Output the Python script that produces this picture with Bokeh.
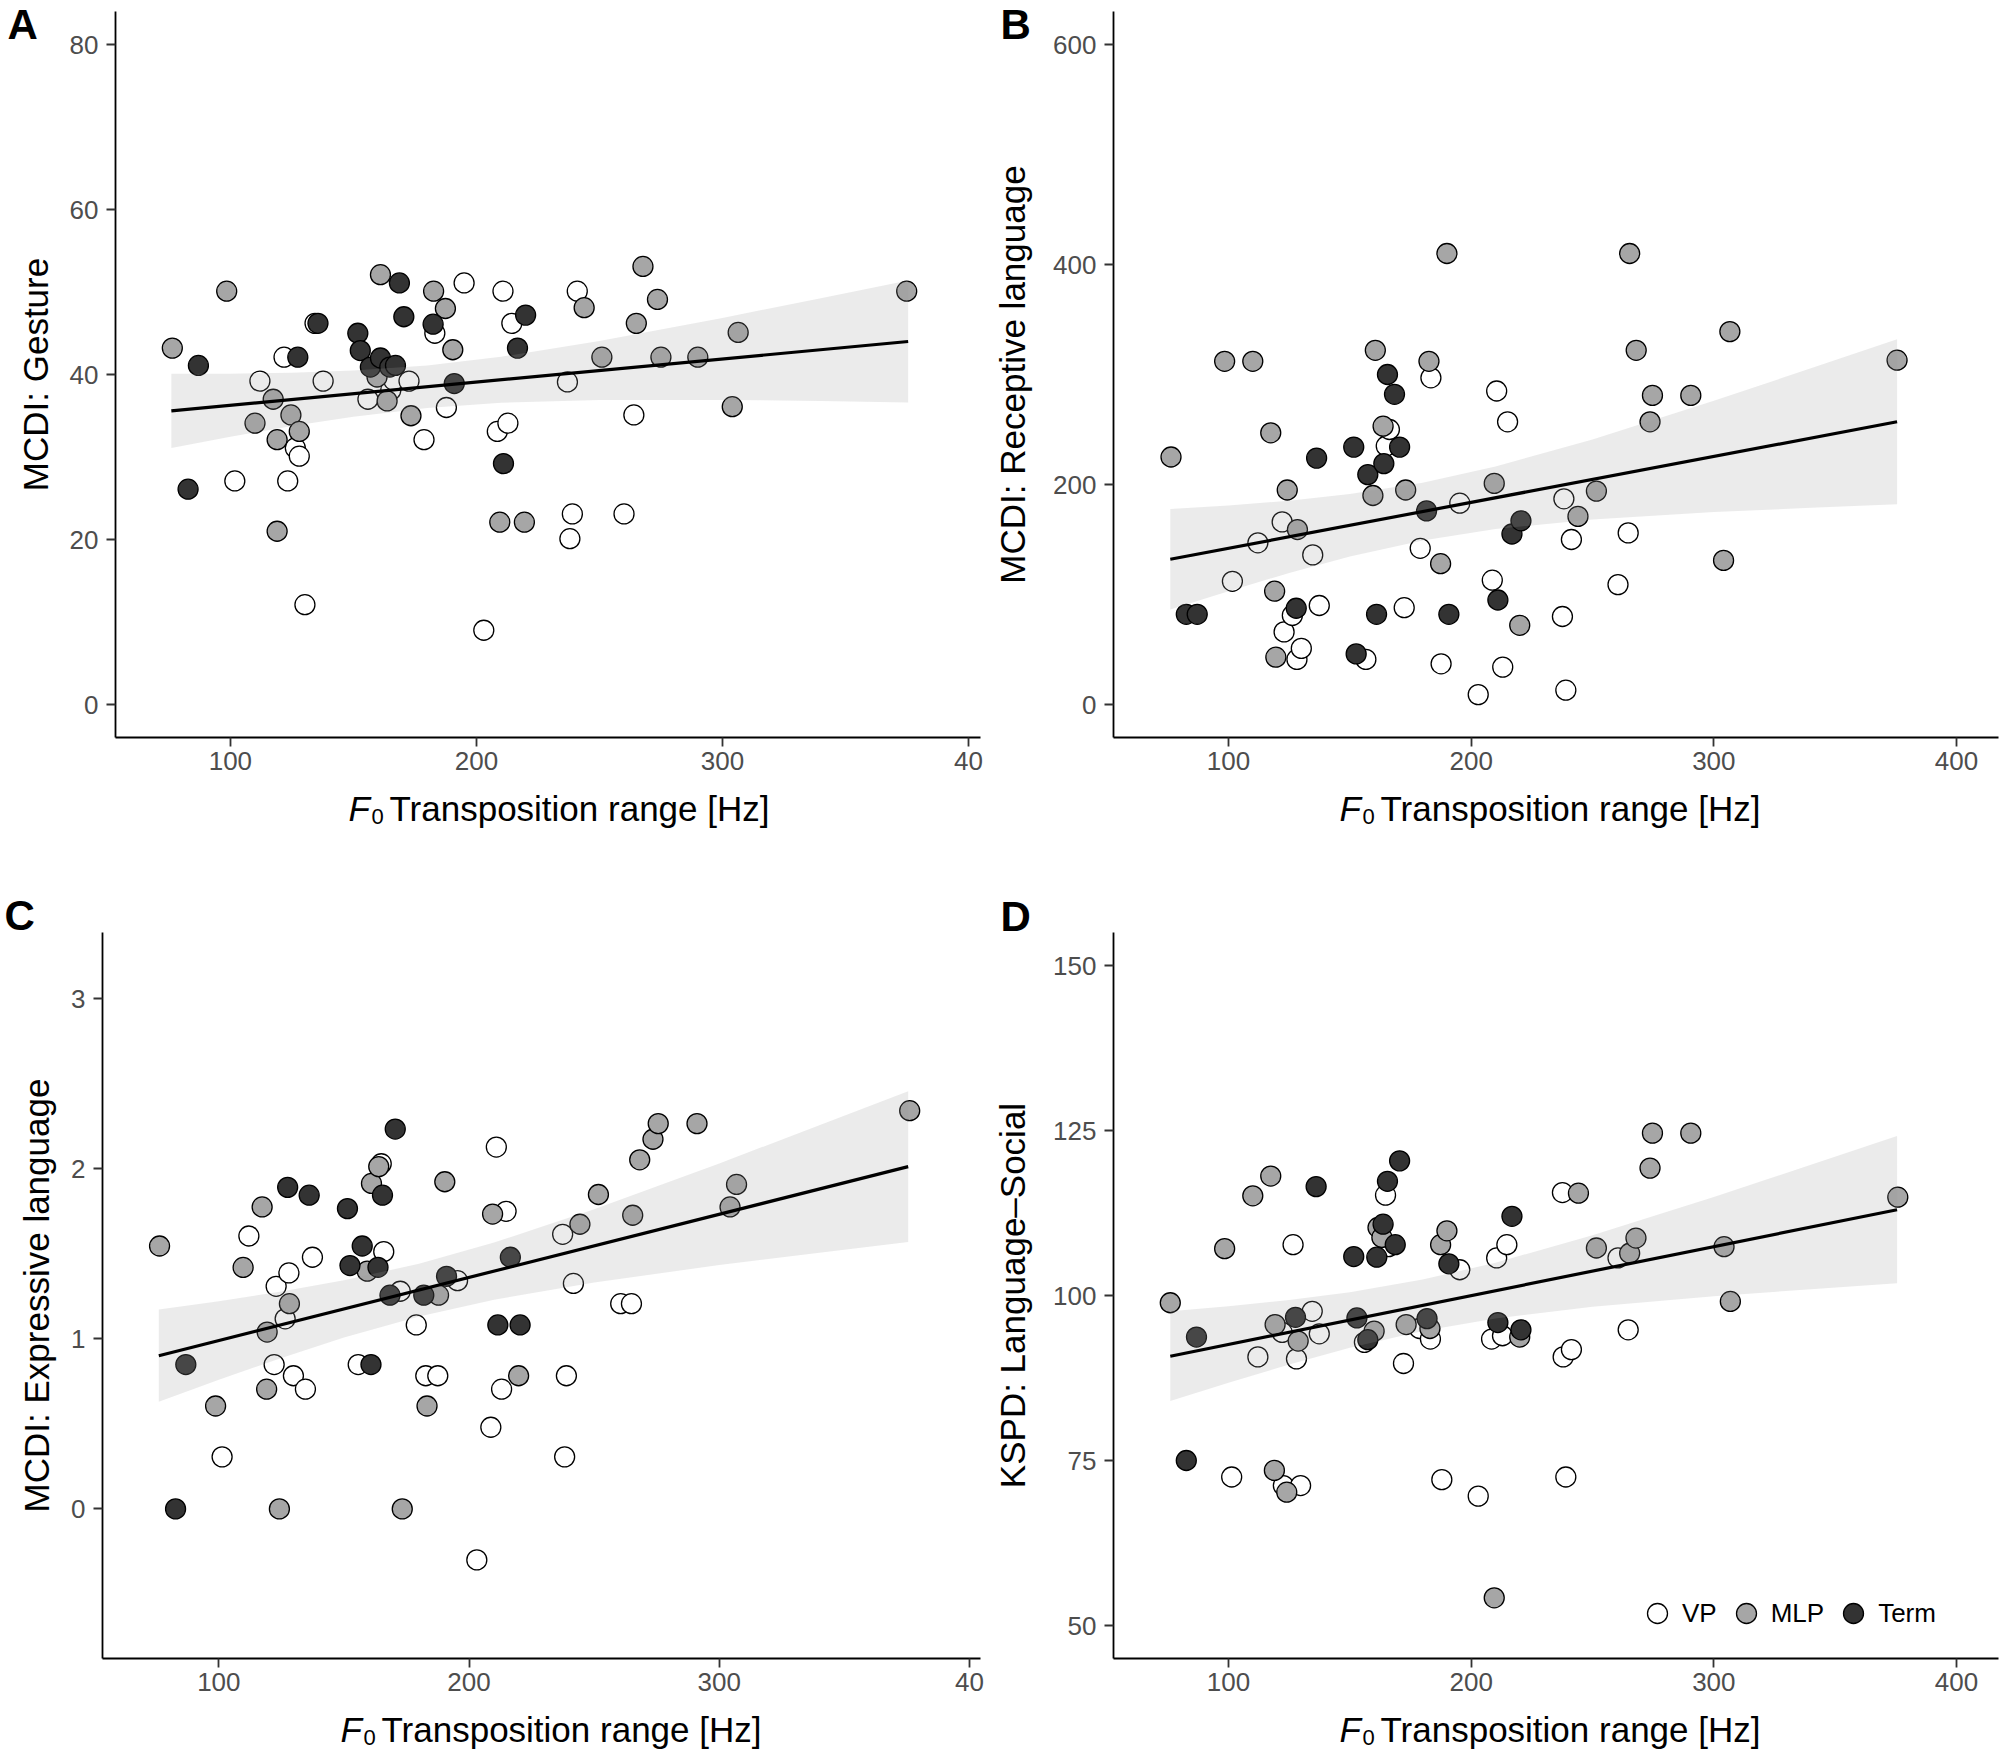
from bokeh.plotting import figure
from bokeh.models import FixedTicker, Label, Legend, LegendItem, Range1d
from bokeh.layouts import column, row
from bokeh.embed import file_html
from bokeh.resources import INLINE

FONT = "Liberation Sans"
C_VP, C_MLP, C_TERM = "#FFFFFF", "#A6A6A6", "#333333"

# ---------------- data ----------------
x_ticks = [100, 200, 300, 400]

# Panel A: MCDI Gesture
a_vp_x = [101.8, 112, 121.8, 123.3, 126.4, 128, 130.3, 134.4, 137.7, 155.9, 165.2, 166.4, 172.6, 178.7,
          183.1, 187.8, 195, 208.5, 210.8, 212.8, 214.4, 203, 237, 238, 239, 241, 260, 264]
a_vp_y = [27.1, 39.2, 42.1, 27.1, 31.1, 30.1, 12.1, 46.2, 39.2, 37, 38.1, 39.3, 39.2, 32.1,
          45, 36, 51.1, 33.1, 50.1, 34.1, 46.2, 9, 39.1, 20.1, 23.1, 50.1, 23.1, 35.1]
a_mlp_x = [76.4, 98.5, 110, 117.4, 124.6, 119, 128, 119, 161, 159.6, 163.7, 182.6, 187.4, 190.4,
           173.4, 209.5, 219.5, 243.8, 251, 265, 267.7, 273.6, 275, 290, 304, 306.4, 374.9]
a_mlp_y = [43.2, 50.1, 34.1, 37, 35.1, 32.1, 33.1, 21, 52.1, 39.7, 36.8, 50.1, 48, 43,
           35, 22.1, 22.1, 48.1, 42.1, 46.2, 53.1, 49.1, 42.1, 42.1, 36.1, 45.1, 50.1]
a_term_x = [87, 82.8, 127.4, 135.6, 151.8, 152.8, 156.9, 161, 164.8, 167.1, 168.7, 170.5, 182.4,
            191, 211, 216.7, 220]
a_term_y = [41.1, 26.1, 42.1, 46.2, 45, 42.9, 40.9, 42, 40.9, 41.1, 51.1, 47, 46.1,
            38.9, 29.2, 43.2, 47.2]

# Panel B: MCDI Receptive language
b_vp_x = [101.6, 112.1, 122.1, 122.9, 126.3, 128.2, 130, 134.7, 137.4, 156.6, 165, 166.3, 172.4, 179,
          183.4, 187.6, 195.3, 202.9, 208.7, 210.5, 213, 215, 238.2, 237.6, 239, 241.3, 260.5, 264.7]
b_vp_y = [112, 147, 166, 66, 81, 41, 51, 136, 90, 41, 235, 250, 88, 142,
          297, 37, 183, 9, 113, 285, 34, 257, 187, 80, 13, 150, 109, 156]
b_mlp_x = [76.3, 98.4, 110, 117.4, 124.2, 128.4, 119, 119.5, 160.5, 163.7, 159.5, 173, 182.6, 187.4,
           190, 209.5, 220, 244, 251.6, 265.3, 268, 274.7, 273.7, 290.5, 304, 306.6, 375.5]
b_mlp_y = [225, 312, 312, 247, 195, 159, 103, 43, 322, 253, 190, 195, 312, 128,
           410, 201, 72, 171, 194, 410, 322, 281, 257, 281, 131, 339, 313]
b_term_x = [82.6, 87.1, 127.9, 136.3, 151.6, 157.4, 165.5, 168.4, 164, 170.5, 161, 152.6, 181.6,
            190.8, 211, 216.8, 220.5]
b_term_y = [82, 82, 87.5, 224, 234, 209, 300, 282, 219, 234, 82, 46, 176,
            82, 95, 155, 167]

# Panel C: MCDI Expressive language
c_vp_x = [101.3, 112, 122.9, 128, 126.5, 122.1, 129.8, 134.6, 137.4, 155.7, 164.9, 165.9, 172.5, 178.9,
          182.7, 187.5, 195.4, 203.1, 208.7, 210.9, 213, 214.8, 237.4, 241.7, 238.9, 238.2, 260.6, 264.9]
c_vp_y = [0.306, 1.605, 1.309, 1.388, 1.118, 0.849, 0.783, 0.704, 1.48, 0.849, 2.03, 1.513, 1.28, 1.082,
          0.783, 0.783, 1.342, -0.3, 0.48, 2.128, 0.704, 1.75, 1.615, 1.326, 0.783, 0.306, 1.207, 1.207]
c_mlp_x = [76.3, 109.7, 117.3, 119.3, 119.1, 128.2, 98.7, 124.2, 161, 163.9, 159.3, 187.8, 190.3, 183.2,
           173.3, 209.4, 219.8, 244.3, 251.7, 265.4, 268.2, 273.5, 275.6, 291.1, 304.3, 306.9, 376.1]
c_mlp_y = [1.546, 1.42, 1.776, 1.04, 0.704, 1.207, 0.605, 0.0, 1.914, 2.013, 1.398, 1.257, 1.924, 0.605,
           0.0, 1.734, 0.783, 1.674, 1.849, 1.727, 2.053, 2.174, 2.266, 2.266, 1.776, 1.908, 2.342]
c_term_x = [82.7, 86.8, 127.5, 136.1, 151.4, 157.3, 152.4, 163.6, 165.4, 160.8, 170.5, 168.4, 181.9,
            191, 216.5, 211.5, 220.4]
c_term_y = [0, 0.849, 1.891, 1.845, 1.766, 1.546, 1.431, 1.421, 1.845, 0.849, 2.234, 1.257, 1.257,
            1.368, 1.48, 1.082, 1.082]

# Panel D: KSPD Language-Social
d_vp_x = [101.3, 112.1, 122.1, 122.6, 129.7, 126.6, 128, 134.5, 137.4, 156, 164.7, 166, 172.1, 178.7,
          183.2, 187.9, 195.3, 202.9, 208.4, 210.5, 212.9, 214.7, 237.6, 237.9, 241.3, 239, 260.5, 264.7]
d_vp_y = [72.5, 90.7, 94.4, 71.2, 71.2, 107.7, 90.4, 97.6, 94.2, 92.9, 115.2, 107.4, 89.7, 95,
          93.4, 72.1, 103.9, 69.6, 93.4, 105.7, 93.9, 107.7, 115.6, 90.7, 91.8, 72.5, 105.7, 94.8]
d_mlp_x = [76, 98.4, 110, 117.4, 119.2, 118.9, 124, 128.7, 160, 161.6, 163.2, 173.2, 187.4, 190,
           183, 220, 209.5, 244.2, 251.6, 265.3, 267.9, 273.7, 274.7, 290.5, 304.2, 306.8, 375.8]
d_mlp_y = [98.9, 107.1, 115.1, 118.1, 95.6, 73.5, 70.2, 93.1, 94.6, 110.3, 108.8, 95.6, 107.7, 109.8,
           95, 93.7, 54.2, 115.5, 107.2, 106.4, 108.7, 119.3, 124.6, 124.6, 107.4, 99.1, 114.9]
d_term_x = [82.6, 86.8, 127.6, 136.1, 151.6, 152.9, 157.4, 161.1, 163.7, 165.5, 168.7, 170.5, 181.8,
            190.8, 211, 216.8, 220.5]
d_term_y = [75, 93.7, 96.7, 116.5, 105.9, 96.6, 93.3, 105.8, 110.8, 117.3, 107.7, 120.4, 96.5,
            104.8, 95.9, 112, 94.8]

# regression lines and confidence bands
fit_x = [76, 375.5]
band_x = [76, 100, 125, 150, 180, 210, 250, 300, 340, 375.5]
a_fit = [35.6, 44.0]
a_lo = [31.1, 32.44, 33.75, 34.89, 35.94, 36.57, 36.91, 36.92, 36.79, 36.62]
a_hi = [40.1, 40.10, 40.21, 40.47, 41.10, 42.15, 44.07, 46.86, 49.25, 51.38]
b_fit = [132, 257]
b_lo = [86.3, 103.0, 119.6, 134.5, 149.2, 159.6, 168.2, 175.0, 178.8, 182.0]
b_hi = [177.8, 181.0, 185.3, 191.3, 201.6, 216.3, 241.0, 276.1, 305.6, 332.0]
c_fit = [0.901, 2.013]
c_lo = [0.630, 0.759, 0.888, 1.008, 1.132, 1.230, 1.332, 1.434, 1.506, 1.569]
c_hi = [1.172, 1.221, 1.278, 1.344, 1.442, 1.566, 1.762, 2.032, 2.256, 2.457]
d_fit = [90.8, 113.0]
d_lo = [84.0, 86.79, 89.55, 92.07, 94.61, 96.52, 98.30, 99.90, 100.96, 101.85]
d_hi = [97.6, 98.37, 99.31, 100.51, 102.41, 104.96, 109.12, 114.92, 119.80, 124.15]

y_titles = ["MCDI: Gesture", "MCDI: Receptive language", "MCDI: Expressive language",
            "KSPD: Language\u2013Social"]
x_title_sym, x_title_sub, x_title_rest = "F", "0", "Transposition range [Hz]"
panel_letters = ["A", "B", "C", "D"]
a_yticks = [0, 20, 40, 60, 80]
b_yticks = [0, 200, 400, 600]
c_yticks = [0, 1, 2, 3]
d_yticks = [50, 75, 100, 125, 150]

W_LEFT, W_RIGHT = 984, 1016
TOP_STRIP_H, ROW1_H, MID_STRIP_H, ROW2_H, BOT_STRIP_H = 52, 787, 157, 776, 45
MID_OVERLAP = 12   # the mid strip reaches 12 px under the (transparent-bordered) second row


def make_panel(ytitle, xr, yr, yticks, groups, bx, lo, hi, fy,
               width, height, bl, br, bt, bb, ystandoff, crop400=False):
    p = figure(width=width, height=height, x_range=Range1d(*xr), y_range=Range1d(*yr),
               output_backend="svg", toolbar_location=None, title=None,
               min_border_left=bl, min_border_right=br, min_border_top=bt, min_border_bottom=bb)
    p.grid.visible = False
    p.outline_line_color = None
    p.background_fill_color = "white"
    p.border_fill_alpha = 0
    for ax in (p.xaxis[0], p.yaxis[0]):
        ax.axis_line_width = 1.8
        ax.axis_line_color = "black"
        ax.major_tick_line_width = 1.8
        ax.major_tick_line_color = "#333333"
        ax.major_tick_out = 9
        ax.major_tick_in = 0
        ax.minor_tick_line_color = None
        ax.major_label_text_font = FONT
        ax.major_label_text_font_size = "26px"
        ax.major_label_text_color = "#4D4D4D"
    p.xaxis[0].ticker = FixedTicker(ticks=x_ticks)
    p.xaxis[0].major_label_standoff = 5
    if crop400:
        p.xaxis[0].major_label_overrides = {400: "40"}
    p.yaxis[0].ticker = FixedTicker(ticks=yticks)
    p.yaxis[0].major_label_standoff = 8
    p.yaxis[0].axis_label = ytitle
    p.yaxis[0].axis_label_text_font = FONT
    p.yaxis[0].axis_label_text_font_size = "35px"
    p.yaxis[0].axis_label_text_font_style = "normal"
    p.yaxis[0].axis_label_text_color = "black"
    p.yaxis[0].axis_label_standoff = ystandoff

    rends = []
    for (gx, gy, col) in groups:
        r = p.scatter(gx, gy, size=20, marker="circle", fill_color=col,
                      line_color="black", line_width=1.3)
        rends.append(r)
    p.varea(x=bx, y1=lo, y2=hi, fill_color="#999999", fill_alpha=0.2)
    p.line(fit_x, fy, line_width=3.2, line_color="black")
    return p, rends


def make_strip(width, height):
    s = figure(width=width, height=height, x_range=Range1d(0, width), y_range=Range1d(height, 0),
               output_backend="svg", toolbar_location=None, title=None,
               x_axis_location=None, y_axis_location=None,
               min_border_left=0, min_border_right=0, min_border_top=0, min_border_bottom=0)
    s.grid.visible = False
    s.outline_line_color = None
    s.background_fill_alpha = 0
    s.border_fill_alpha = 0
    return s


def add_text(s, x, baseline, text, size_px, style="normal"):
    # labels are anchored at their vertical middle; shift so the baseline lands where wanted
    s.add_layout(Label(x=x, y=baseline - 0.3465 * size_px, text=text, text_font=FONT,
                       text_font_size="%dpx" % size_px, text_font_style=style,
                       text_baseline="middle", text_align="left", text_color="black"))


def add_x_title(s, x0, base):
    add_text(s, x0, base, x_title_sym, 35, "italic")
    add_text(s, x0 + 23, base + 4, x_title_sub, 22)
    add_text(s, x0 + 41, base, x_title_rest, 35)


pA, _ = make_panel(y_titles[0], (53.3, 404.9), (-4, 84), a_yticks,
                   [(a_vp_x, a_vp_y, C_VP), (a_mlp_x, a_mlp_y, C_MLP), (a_term_x, a_term_y, C_TERM)],
                   band_x, a_lo, a_hi, a_fit,
                   W_LEFT, ROW1_H, 115, 4, 11, 50, 12, crop400=True)
pB, _ = make_panel(y_titles[1], (52.6, 417.3), (-30, 630), b_yticks,
                   [(b_vp_x, b_vp_y, C_VP), (b_mlp_x, b_mlp_y, C_MLP), (b_term_x, b_term_y, C_TERM)],
                   band_x, b_lo, b_hi, b_fit,
                   W_RIGHT, ROW1_H, 129, 2, 11, 50, 18)
pC, _ = make_panel(y_titles[2], (53.5, 404.4), (-0.88, 3.39), c_yticks,
                   [(c_vp_x, c_vp_y, C_VP), (c_mlp_x, c_mlp_y, C_MLP), (c_term_x, c_term_y, C_TERM)],
                   band_x, c_lo, c_hi, c_fit,
                   W_LEFT, ROW2_H, 102, 4, 0, 50, 12, crop400=True)
pD, rD = make_panel(y_titles[3], (52.6, 417.3), (45, 155), d_yticks,
                    [(d_vp_x, d_vp_y, C_VP), (d_mlp_x, d_mlp_y, C_MLP), (d_term_x, d_term_y, C_TERM)],
                    band_x, d_lo, d_hi, d_fit,
                    W_RIGHT, ROW2_H, 129, 2, 0, 50, 18)

legend = Legend(items=[LegendItem(label="VP", renderers=[rD[0]]),
                       LegendItem(label="MLP", renderers=[rD[1]]),
                       LegendItem(label="Term", renderers=[rD[2]])],
                location=(519, 20), orientation="horizontal",
                glyph_width=50, glyph_height=50, label_standoff=0, spacing=4,
                padding=0, margin=0, background_fill_alpha=0, border_line_color=None,
                label_text_font=FONT, label_text_font_size="26px", label_text_color="black")
pD.add_layout(legend)

# text strips (y measured in px from each strip's top)
top_strip = make_strip(W_LEFT + W_RIGHT, TOP_STRIP_H)
add_text(top_strip, 7, 39, panel_letters[0], 42, "bold")
add_text(top_strip, 1000, 39, panel_letters[1], 42, "bold")

mid_strip = make_strip(W_LEFT + W_RIGHT, MID_STRIP_H)
add_x_title(mid_strip, 348, 820 - ROW1_H)
add_x_title(mid_strip, 1339, 820 - ROW1_H)
add_text(mid_strip, 4, 930 - ROW1_H, panel_letters[2], 42, "bold")
add_text(mid_strip, 1000, 931 - ROW1_H, panel_letters[3], 42, "bold")

bot_strip = make_strip(W_LEFT + W_RIGHT, BOT_STRIP_H)
y_bot0 = ROW1_H + MID_STRIP_H - MID_OVERLAP + ROW2_H
add_x_title(bot_strip, 340, 1741 - y_bot0)
add_x_title(bot_strip, 1339, 1741 - y_bot0)

row1 = row(pA, pB, styles={"margin-top": "-%dpx" % TOP_STRIP_H})
row2 = row(pC, pD, styles={"margin-top": "-%dpx" % MID_OVERLAP})
layout = column(top_strip, row1, mid_strip, row2, bot_strip)
open("out.html", "w").write(file_html(layout, INLINE))
